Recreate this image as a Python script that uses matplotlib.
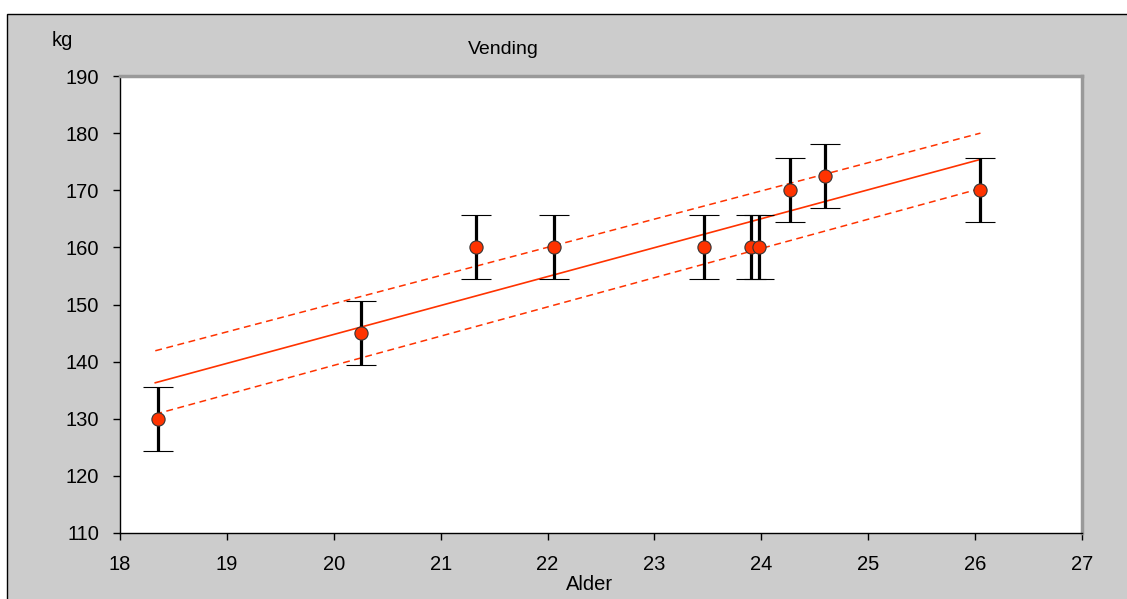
import matplotlib.pyplot as plt
from matplotlib.patches import Rectangle

# age (years) and weight (kg) per measurement
alder = [18.36, 20.25, 21.33, 22.06, 23.46, 23.90, 23.98, 24.27, 24.60, 26.05]
vekt = [130, 145, 160, 160, 160, 160, 160, 170, 172.5, 170]
feil = [5.6] * len(alder)

# regression line and its confidence band, given at the two ends
fit_x = [18.33, 26.05]
fit_y = [136.3, 175.4]
band_upper = [141.9, 180.0]
band_lower = [130.8, 170.3]

x_ticks = list(range(18, 28))
y_ticks = list(range(110, 200, 10))

plt.rcParams['font.family'] = ['Liberation Sans', 'DejaVu Sans']

fig = plt.figure(figsize=(11.27, 5.99), dpi=100)
fig.patch.set_facecolor('white')
# grey chart area with a thin black frame
fig.patches.append(Rectangle((7 / 1127, -0.01), 1.02, 1 - 14 / 599 + 0.01,
                             transform=fig.transFigure, facecolor='#cccccc',
                             edgecolor='black', linewidth=1, zorder=-10))

ax = fig.add_axes([120 / 1127, 66 / 599, 962 / 1127, 457 / 599])
ax.set_zorder(1)
ax.set_facecolor('white')

red = '#ff3300'
ax.plot(fit_x, fit_y, color=red, linewidth=1.2, zorder=2)
ax.plot(fit_x, band_upper, color=red, linewidth=1.1, linestyle=(0, (4.5, 3)), zorder=2)
ax.plot(fit_x, band_lower, color=red, linewidth=1.1, linestyle=(0, (4.5, 3)), zorder=2)

ax.errorbar(alder, vekt, yerr=feil, fmt='o', color='black', ecolor='black',
            elinewidth=2.3, capsize=11, capthick=2.3, markersize=9.5,
            markerfacecolor=red, markeredgecolor='#333333', markeredgewidth=0.8,
            zorder=3)

ax.set_xlim(18, 27)
ax.set_ylim(110, 190)
ax.set_xticks(x_ticks)
ax.set_yticks(y_ticks)
ax.tick_params(direction='out', length=5, width=1, labelsize=14.5)
ax.tick_params(axis='x', pad=11)
ax.tick_params(axis='y', pad=10)

for side in ['left', 'bottom']:
    ax.spines[side].set_color('black')
    ax.spines[side].set_linewidth(1)
for side in ['top', 'right']:
    ax.spines[side].set_color('#999999')
    ax.spines[side].set_linewidth(2.5)

fig.text(503 / 1127, 1 - 50 / 599, 'Vending', ha='center', va='center', fontsize=14)
fig.text(62 / 1127, 1 - 40 / 599, 'kg', ha='center', va='center', fontsize=14.5)
fig.text(590 / 1127, 1 - 585 / 599, 'Alder', ha='center', va='center', fontsize=14.5)

fig.savefig('out.png', dpi=100, facecolor=fig.get_facecolor())
